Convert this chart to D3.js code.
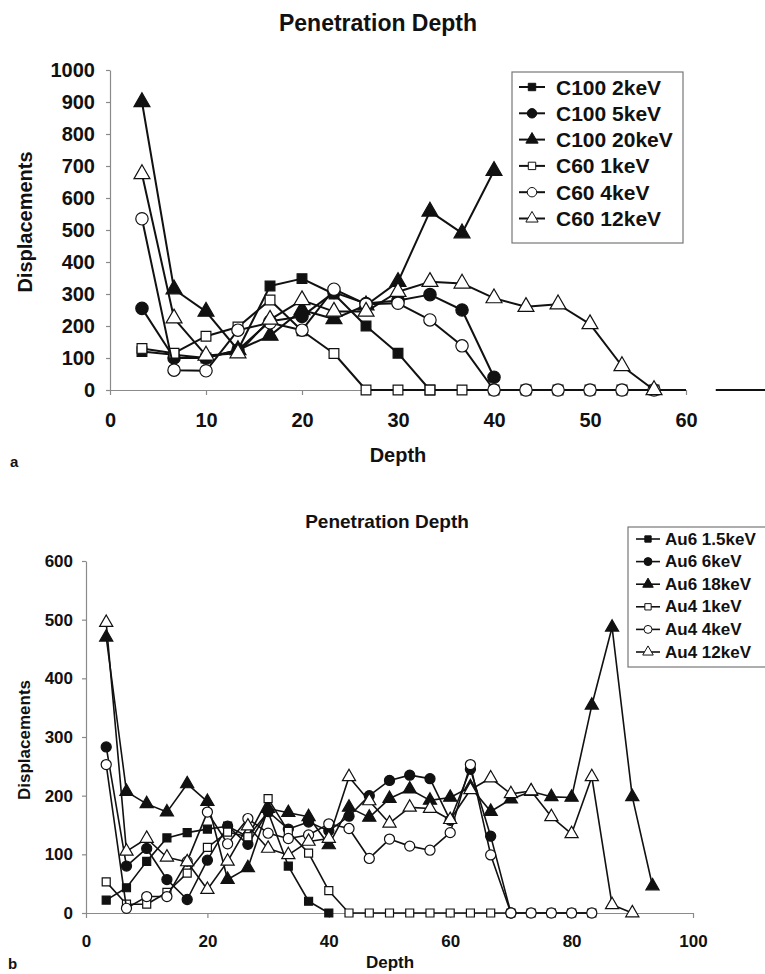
<!DOCTYPE html>
<html>
<head>
<meta charset="utf-8">
<script src="https://cdn.jsdelivr.net/npm/d3@7"></script>
<style>
  body { margin: 0; background: #fff; }
  svg { display: block; }
  text { font-family: "Liberation Sans", Arial, sans-serif; font-weight: bold; fill: #111; }
</style>
</head>
<body>
<div id="chart"></div>
<script>
////////////////////////////////////////////////////////////////////////
// Data

// panel a: depth positions and series
let depthA = [3.33, 6.67, 10, 13.33, 16.67, 20, 23.33, 26.67, 30, 33.33, 36.67, 40, 43.33, 46.67, 50, 53.33, 56.67];
let c100_2keV  = [120, 110, 100, 125, 325, 348, 300, 200, 115, 0];
let c100_5keV  = [255, 100, 100, 125, 215, 230, 305, 270, 280, 298, 250, 40];
let c100_20keV = [900, 315, 245, 125, 170, 250, 222, 265, 338, 558, 490, 685];
let c60_1keV   = [130, 115, 168, 197, 281, 185, 114, 0, 0, 0, 0, 0, 0, 0, 0, 0, 0];
let c60_4keV   = [535, 62, 60, 187, 210, 187, 315, 268, 271, 219, 138, 0, 0, 0, 0, 0, 0];
let c60_12keV  = [675, 224, 108, 115, 220, 281, 245, 245, 307, 338, 333, 287, 260, 268, 206, 75, 0];
// zero line running on past the last marker, and the stray piece right of the plot
let tailA  = [[56.67, 0], [60, 0]];
let strayA = [[63.1, 0], [68.5, 0]];
let xTicksA = [0, 10, 20, 30, 40, 50, 60];
let yTicksA = [0, 100, 200, 300, 400, 500, 600, 700, 800, 900, 1000];

// panel b
let depthB = [3.33, 6.67, 10, 13.33, 16.67, 20, 23.33, 26.67, 30, 33.33, 36.67, 40, 43.33, 46.67,
              50, 53.33, 56.67, 60, 63.33, 66.67, 70, 73.33, 76.67, 80, 83.33, 86.67, 90, 93.33];
let au6_1_5keV = [22, 43, 88, 128, 137, 143, 148, 130, 172, 80, 20, 0];
let au6_6keV   = [283, 80, 110, 57, 23, 90, 148, 117, 173, 143, 155, 140, 165, 200, 226, 235, 229, 158, 245, 131, 0];
let au6_18keV  = [470, 207, 186, 172, 220, 190, 57, 77, 178, 171, 164, 116, 180, 163, 195, 211, 192, 197,
                  215, 173, 194, 207, 198, 197, 354, 487, 198, 46];
let au4_1keV   = [53, 15, 15, 35, 68, 112, 138, 130, 195, 139, 102, 38, 0, 0, 0, 0, 0, 0, 0, 0, 0, 0, 0, 0, 0];
let au4_4keV   = [253, 8, 28, 28, 88, 172, 118, 161, 136, 127, 133, 152, 144, 93, 126, 114, 107, 137, 253, 99,
                  0, 0, 0, 0, 0];
let au4_12keV  = [495, 105, 127, 95, 87, 40, 88, 148, 110, 99, 122, 127, 232, 191, 153, 180, 178, 159, 210,
                  230, 203, 208, 164, 135, 232, 14, 0];
let xTicksB = [0, 20, 40, 60, 80, 100];
let yTicksB = [0, 100, 200, 300, 400, 500, 600];

let namesA = ["C100 2keV", "C100 5keV", "C100 20keV", "C60 1keV", "C60 4keV", "C60 12keV"];
let namesB = ["Au6 1.5keV", "Au6 6keV", "Au6 18keV", "Au4 1keV", "Au4 4keV", "Au4 12keV"];

// marker shape and fill per series position (same order in both panels)
let shapes = [d3.symbolSquare, d3.symbolCircle, d3.symbolTriangle, d3.symbolSquare, d3.symbolCircle, d3.symbolTriangle];
let filled = [true, true, true, false, false, false];

////////////////////////////////////////////////////////////////////////
// Drawing

let svg = d3.select("#chart").append("svg")
  .attr("width", 765)
  .attr("height", 974);

function drawPanel(cfg) {
  let x = d3.scaleLinear().domain([0, cfg.xMax]).range([cfg.left, cfg.right]);
  let y = d3.scaleLinear().domain([0, cfg.yMax]).range([cfg.bottom, cfg.top]);
  let g = svg.append("g");

  // title
  g.append("text")
    .attr("x", cfg.titleX).attr("y", cfg.titleY)
    .attr("text-anchor", "middle")
    .style("font-size", cfg.titleSize + "px")
    .text("Penetration Depth");

  // axes
  let yAxisG = g.append("g")
    .attr("transform", "translate(" + cfg.left + ",0)")
    .call(d3.axisLeft(y).tickValues(cfg.yTicks).tickFormat(d3.format("d"))
      .tickSize(4).tickSizeOuter(0).tickPadding(cfg.yPad));
  let xAxisG = g.append("g")
    .attr("transform", "translate(0," + cfg.bottom + ")")
    .call(d3.axisBottom(x).tickValues(cfg.xTicks).tickFormat(d3.format("d"))
      .tickSize(5).tickSizeOuter(0).tickPadding(cfg.xPad));

  [yAxisG, xAxisG].forEach(a => {
    a.select(".domain").attr("stroke", "#8a8a8a").attr("stroke-width", 1.2);
    a.selectAll(".tick line").attr("stroke", "#8a8a8a").attr("stroke-width", 1.2);
    a.selectAll(".tick text").attr("fill", "#111").style("font-size", cfg.tickSize + "px");
  });

  // axis titles
  g.append("text")
    .attr("transform", "translate(" + cfg.yLabelX + "," + cfg.yLabelY + ") rotate(-90)")
    .attr("text-anchor", "middle")
    .style("font-size", cfg.labelSize + "px")
    .text("Displacements");
  g.append("text")
    .attr("x", cfg.xLabelX).attr("y", cfg.xLabelY)
    .attr("text-anchor", "middle")
    .style("font-size", cfg.labelSize + "px")
    .text("Depth");
  g.append("text")
    .attr("x", cfg.letterX).attr("y", cfg.letterY)
    .style("font-size", "15px")
    .text(cfg.letter);

  let line = d3.line().x(d => x(d[0])).y(d => y(d[1]));

  // extra zero-line pieces
  (cfg.extras || []).forEach(seg => {
    g.append("path")
      .attr("d", line(seg))
      .attr("fill", "none")
      .attr("stroke", "#111")
      .attr("stroke-width", cfg.lineWidth);
  });

  // series, drawn in order like the original
  cfg.series.forEach((vals, i) => {
    let pts = vals.map((v, k) => [cfg.depth[k], v]);
    g.append("path")
      .attr("d", line(pts))
      .attr("fill", "none")
      .attr("stroke", "#111")
      .attr("stroke-width", cfg.lineWidth)
      .attr("stroke-linejoin", "round");
    g.selectAll(".m" + i)
      .data(pts)
      .enter()
      .append("path")
      .attr("transform", d => "translate(" + x(d[0]) + "," + y(d[1]) + ")")
      .attr("d", d3.symbol().type(shapes[i]).size(cfg.markSize[i]))
      .attr("fill", filled[i] ? "#111" : "#fff")
      .attr("stroke", "#111")
      .attr("stroke-width", 1.2);
  });

  // legend
  let lg = g.append("g");
  lg.append("rect")
    .attr("x", cfg.legend.x).attr("y", cfg.legend.y)
    .attr("width", cfg.legend.w).attr("height", cfg.legend.h)
    .attr("fill", "#fff")
    .attr("stroke", "#777")
    .attr("stroke-width", 1.2);
  cfg.names.forEach((name, i) => {
    let ry = cfg.legend.y + cfg.legend.first + i * cfg.legend.step;
    let cx = cfg.legend.x + cfg.legend.mark;
    lg.append("line")
      .attr("x1", cx - cfg.legend.half).attr("x2", cx + cfg.legend.half)
      .attr("y1", ry).attr("y2", ry)
      .attr("stroke", "#111").attr("stroke-width", cfg.lineWidth);
    lg.append("path")
      .attr("transform", "translate(" + cx + "," + ry + ")")
      .attr("d", d3.symbol().type(shapes[i]).size(cfg.legendMark[i]))
      .attr("fill", filled[i] ? "#111" : "#fff")
      .attr("stroke", "#111")
      .attr("stroke-width", 1);
    lg.append("text")
      .attr("x", cfg.legend.x + cfg.legend.text).attr("y", ry)
      .attr("dominant-baseline", "central")
      .style("font-size", cfg.legendSize + "px")
      .text(name);
  });
}

// panel a
drawPanel({
  xMax: 60, yMax: 1000,
  left: 110, right: 686, top: 70, bottom: 390,
  xTicks: xTicksA, yTicks: yTicksA,
  depth: depthA,
  series: [c100_2keV, c100_5keV, c100_20keV, c60_1keV, c60_4keV, c60_12keV],
  extras: [tailA, strayA],
  names: namesA,
  titleX: 378, titleY: 31, titleSize: 23,
  tickSize: 20, labelSize: 20, legendSize: 21,
  yPad: 11, xPad: 18,
  yLabelX: 32, yLabelY: 222,
  xLabelX: 398, xLabelY: 462,
  letter: "a", letterX: 10, letterY: 467,
  lineWidth: 2,
  markSize: [95, 120, 110, 95, 120, 110],
  legendMark: [55, 70, 65, 55, 70, 65],
  legend: { x: 512, y: 72, w: 171, h: 171, first: 15, step: 26.3, mark: 20, half: 13, text: 44 }
});

// panel b
drawPanel({
  xMax: 100, yMax: 600,
  left: 86, right: 693, top: 561, bottom: 913,
  xTicks: xTicksB, yTicks: yTicksB,
  depth: depthB,
  series: [au6_1_5keV, au6_6keV, au6_18keV, au4_1keV, au4_4keV, au4_12keV],
  names: namesB,
  titleX: 387, titleY: 528, titleSize: 19,
  tickSize: 17, labelSize: 17, legendSize: 17,
  yPad: 9, xPad: 17,
  yLabelX: 30, yLabelY: 740,
  xLabelX: 390, xLabelY: 968,
  letter: "b", letterX: 8, letterY: 969,
  lineWidth: 1.6,
  markSize: [64, 80, 75, 64, 80, 75],
  legendMark: [40, 50, 48, 40, 50, 48],
  legend: { x: 628, y: 527, w: 150, h: 140, first: 12, step: 22.6, mark: 20, half: 12, text: 37 }
});
</script>
</body>
</html>
